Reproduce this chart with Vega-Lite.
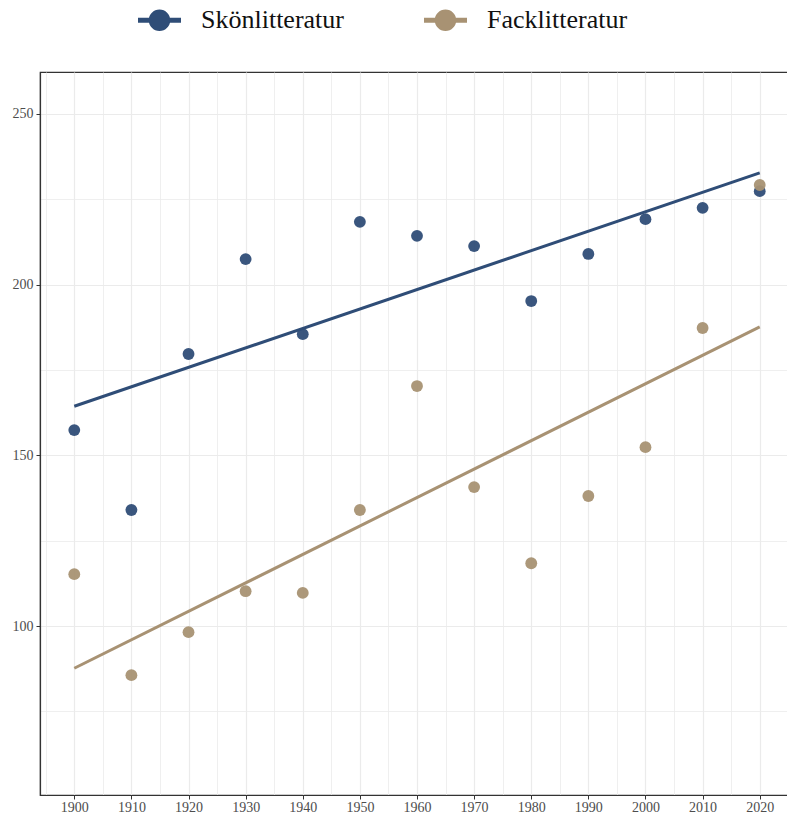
{
  "$schema": "https://vega.github.io/schema/vega-lite/v6.json",
  "width": 754,
  "height": 723,
  "autosize": {"type": "none"},
  "padding": {"left": 40, "top": 72, "right": 0, "bottom": 19},
  "background": "white",
  "config": {
    "font": "Liberation Serif",
    "view": {"stroke": "#333333", "strokeWidth": 1.2},
    "axis": {
      "labelFont": "Liberation Serif",
      "labelFontSize": 14,
      "labelColor": "#4d4d4d",
      "domainColor": "#333333",
      "domainWidth": 1.2,
      "tickColor": "#333333",
      "tickSize": 4,
      "gridColor": "#ebebeb",
      "gridWidth": 1.2,
      "title": null
    }
  },
  "data": {
    "values": [
      {"year": 1900, "value": 157.4, "type": "Skönlitteratur"},
      {"year": 1910, "value": 134.0, "type": "Skönlitteratur"},
      {"year": 1920, "value": 179.7, "type": "Skönlitteratur"},
      {"year": 1930, "value": 207.5, "type": "Skönlitteratur"},
      {"year": 1940, "value": 185.5, "type": "Skönlitteratur"},
      {"year": 1950, "value": 218.4, "type": "Skönlitteratur"},
      {"year": 1960, "value": 214.3, "type": "Skönlitteratur"},
      {"year": 1970, "value": 211.3, "type": "Skönlitteratur"},
      {"year": 1980, "value": 195.2, "type": "Skönlitteratur"},
      {"year": 1990, "value": 209.0, "type": "Skönlitteratur"},
      {"year": 2000, "value": 219.2, "type": "Skönlitteratur"},
      {"year": 2010, "value": 222.5, "type": "Skönlitteratur"},
      {"year": 2020, "value": 227.4, "type": "Skönlitteratur"},
      {"year": 1900, "value": 115.2, "type": "Facklitteratur"},
      {"year": 1910, "value": 85.6, "type": "Facklitteratur"},
      {"year": 1920, "value": 98.2, "type": "Facklitteratur"},
      {"year": 1930, "value": 110.2, "type": "Facklitteratur"},
      {"year": 1940, "value": 109.7, "type": "Facklitteratur"},
      {"year": 1950, "value": 134.0, "type": "Facklitteratur"},
      {"year": 1960, "value": 170.3, "type": "Facklitteratur"},
      {"year": 1970, "value": 140.7, "type": "Facklitteratur"},
      {"year": 1980, "value": 118.4, "type": "Facklitteratur"},
      {"year": 1990, "value": 138.1, "type": "Facklitteratur"},
      {"year": 2000, "value": 152.4, "type": "Facklitteratur"},
      {"year": 2010, "value": 187.3, "type": "Facklitteratur"},
      {"year": 2020, "value": 229.2, "type": "Facklitteratur"}
    ]
  },
  "encoding": {
    "x": {
      "field": "year", "type": "quantitative",
      "scale": {"domain": [1894, 2026], "nice": false, "zero": false},
      "axis": {
        "values": [1895,1900,1905,1910,1915,1920,1925,1930,1935,1940,1945,1950,1955,1960,1965,1970,1975,1980,1985,1990,1995,2000,2005,2010,2015,2020,2025],
        "format": "d",
        "labelExpr": "datum.value % 10 == 0 ? datum.label : ''",
        "tickOpacity": {"condition": {"test": "datum.value % 10 != 0", "value": 0}, "value": 1},
        "gridWidth": {"condition": {"test": "datum.value % 10 != 0", "value": 0.8}, "value": 1.2},
        "labelPadding": 1
      }
    },
    "y": {
      "field": "value", "type": "quantitative",
      "scale": {"domain": [50.5, 262.3], "nice": false, "zero": false},
      "axis": {
        "values": [75, 100, 125, 150, 175, 200, 225, 250],
        "labelExpr": "datum.value % 50 == 0 ? datum.label : ''",
        "tickOpacity": {"condition": {"test": "datum.value % 50 != 0", "value": 0}, "value": 1},
        "gridWidth": {"condition": {"test": "datum.value % 50 != 0", "value": 0.8}, "value": 1.2},
        "labelPadding": 3
      }
    },
    "color": {
      "field": "type", "type": "nominal",
      "scale": {"domain": ["Skönlitteratur", "Facklitteratur"], "range": ["#2f4d77", "#a89273"]},
      "legend": {
        "title": null,
        "orient": "none",
        "direction": "horizontal",
        "legendX": 98,
        "legendY": -73.5,
        "labelFont": "Liberation Serif",
        "labelFontSize": 26,
        "labelColor": "#111111",
        "symbolType": "M -1 -0.12 H 1 V 0.12 H -1 Z M -0.5 0 A 0.5 0.5 0 1 1 0.5 0 A 0.5 0.5 0 1 1 -0.5 0 Z",
        "symbolSize": 1849,
        "symbolStrokeWidth": 0,
        "symbolOpacity": 1,
        "labelOffset": 20,
        "columnPadding": 80
      }
    }
  },
  "layer": [
    {
      "transform": [
        {"regression": "value", "on": "year", "groupby": ["type"], "extent": [1900, 2020]}
      ],
      "mark": {"type": "line", "strokeWidth": 3}
    },
    {
      "mark": {"type": "circle", "size": 140, "opacity": 0.95}
    }
  ]
}
